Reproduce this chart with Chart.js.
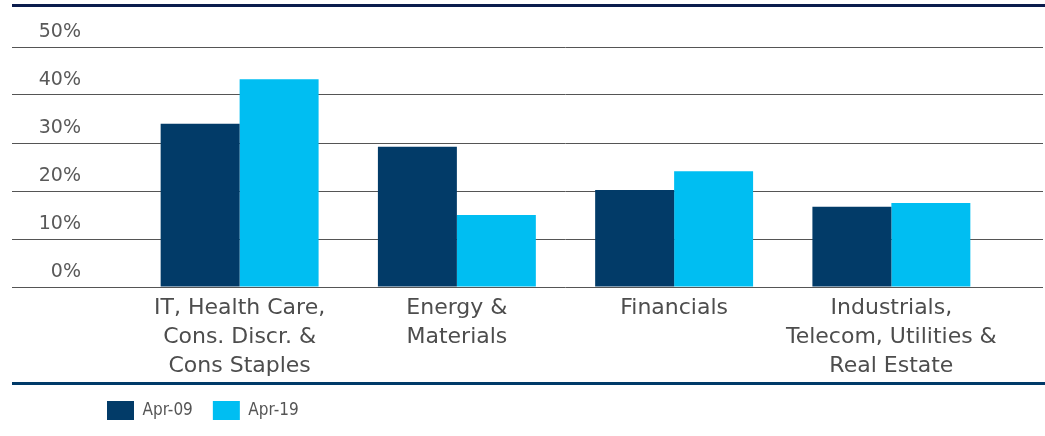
<!DOCTYPE html>
<html>
<head>
<meta charset="utf-8">
<script src="https://cdn.jsdelivr.net/npm/chart.js@4.4.0/dist/chart.umd.min.js"></script>
<style>
  html, body { margin: 0; padding: 0; background: #fff; }
  #wrap { position: relative; width: 1045px; height: 436px; }
  #topline { position: absolute; left: 12px; right: 0; top: 4px; height: 3px; background: #0b1c4d; }
  #botline { position: absolute; left: 12px; right: 0; top: 382px; height: 3px; background: #003a68; }
  canvas { position: absolute; left: 0; top: 0; }
</style>
</head>
<body>
<div id="wrap">
  <canvas id="chart" width="1045" height="436"></canvas>
  <div id="topline"></div>
  <div id="botline"></div>
</div>
<script>
// data
const categories = [
  ['IT, Health Care,', 'Cons. Discr. &', 'Cons Staples'],
  ['Energy &', 'Materials'],
  ['Financials'],
  ['Industrials,', 'Telecom, Utilities &', 'Real Estate']
];
const apr09 = [34, 29.2, 20.2, 16.7];
const apr19 = [43.3, 15, 24.1, 17.5];
const yTicks = [0, 10, 20, 30, 40, 50];

const NAVY = '#023b68';
const CYAN = '#00bef2';
const GRID = '#555555';

// legend sits indented under the plot, not at the far left
const legendShift = {
  id: 'legendShift',
  afterLayout(chart) {
    chart.legend.left += 75;
  }
};

const ctx = document.getElementById('chart');

new Chart(ctx, {
  type: 'bar',
  data: {
    labels: categories,
    datasets: [
      { label: 'Apr-09', data: apr09, backgroundColor: NAVY, categoryPercentage: 0.727, barPercentage: 1 },
      { label: 'Apr-19', data: apr19, backgroundColor: CYAN, categoryPercentage: 0.727, barPercentage: 1 }
    ]
  },
  plugins: [legendShift],
  options: {
    responsive: false,
    animation: false,
    layout: { padding: { top: 47, left: 12, right: 2, bottom: 6 } },
    plugins: {
      tooltip: { enabled: false },
      legend: {
        position: 'bottom',
        align: 'start',
        labels: {
          boxWidth: 27,
          boxHeight: 19,
          padding: 20,
          color: '#555',
          font: { family: '"Liberation Sans Narrow", "DejaVu Sans Condensed", sans-serif', size: 17 }
        }
      }
    },
    scales: {
      x: {
        grid: { display: false },
        border: { display: false },
        ticks: {
          color: '#4d4d4d',
          padding: -1,
          maxRotation: 0,
          autoSkip: false,
          font: { family: '"DejaVu Sans", sans-serif', size: 22, lineHeight: 1.32 }
        },
        afterFit: (s) => { s.height = 94; }
      },
      y: {
        min: yTicks[0],
        max: yTicks[yTicks.length - 1],
        border: { display: false },
        grid: { color: GRID, lineWidth: 1, tickLength: 119 },
        ticks: {
          stepSize: 10,
          padding: -69,
          labelOffset: -15,
          color: '#595959',
          font: { family: '"DejaVu Sans", sans-serif', size: 19 },
          callback: (v) => v + '%'
        },
        afterFit: (s) => { s.width = 119; }
      },
      y2: {
        position: 'right',
        min: yTicks[0],
        max: yTicks[yTicks.length - 1],
        border: { display: false },
        grid: { color: GRID, lineWidth: 1, drawOnChartArea: false, tickLength: 43 },
        ticks: { stepSize: 10, display: false },
        afterFit: (s) => { s.width = 43; }
      }
    }
  }
});
</script>
</body>
</html>
